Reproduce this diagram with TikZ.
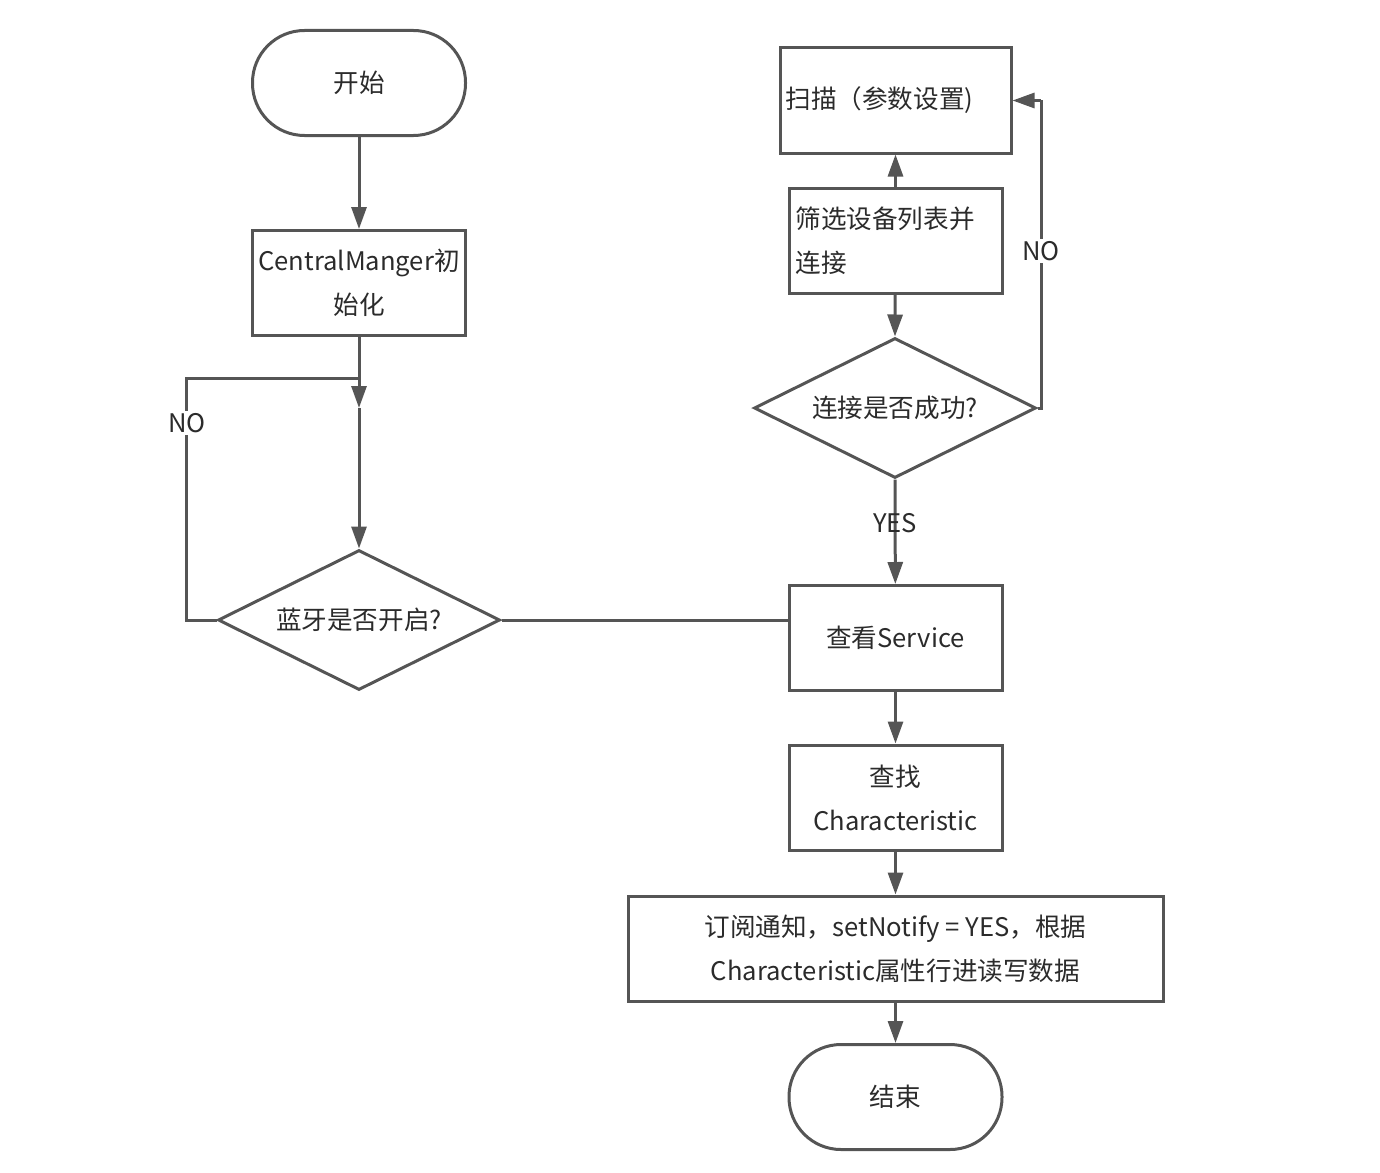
\documentclass[tikz,border=0pt]{standalone}
\usepackage{fontspec}
\setmainfont{Noto Sans CJK SC}
\usetikzlibrary{shapes.geometric, arrows.meta}

\definecolor{linegray}{HTML}{555555}
\definecolor{textgray}{HTML}{2B2B2B}

\tikzset{
  box/.style={draw=linegray, line width=1.5pt, rectangle, minimum width=106.5pt,
    minimum height=52.5pt, inner sep=2pt, text=textgray, align=center,
    font=\fontsize{12.8}{22}\selectfont},
  terminal/.style={box, rounded corners=26pt},
  decision/.style={draw=linegray, line width=1.5pt, diamond, aspect=2, inner sep=0pt,
    minimum width=141pt, minimum height=70pt, text=textgray,
    font=\fontsize{12.8}{22}\selectfont},
  flow/.style={draw=linegray, line width=1.5pt, -{Triangle[length=11pt,width=7.5pt]}},
  link/.style={draw=linegray, line width=1.5pt},
  tag/.style={text=textgray, font=\fontsize{12.8}{14}\selectfont, inner sep=1pt}
}

\begin{document}
\begin{tikzpicture}[x=0.5pt, y=-0.5pt]
  \useasboundingbox (0,0) rectangle (1380,1172);

  % Left column
  \node[terminal] (start) at (359,83) {开始};
  \node[box] (init) at (359,283) {CentralManger初\\始化};
  \node[decision] (bt) at (359,620) {蓝牙是否开启?};

  % Right column
  \node[box, minimum width=115.5pt, text width=110pt, align=left] (scan) at (895.5,100.5) {扫描（参数设置)};
  \node[box, text width=100pt, align=left] (filter) at (895.5,240.5) {筛选设备列表并\\连接};
  \node[decision] (conn) at (895,408) {连接是否成功?};
  \node[box] (svc) at (895.5,638) {查看Service};
  \node[box] (find) at (895.5,797.5) {查找\\Characteristic};
  \node[box, minimum width=267.5pt] (notify) at (895.5,948.5) {订阅通知，setNotify = YES，根据\\Characteristic属性行进读写数据};
  \node[terminal] (end) at (895.5,1097) {结束};

  % Helper points
  \coordinate (jA) at (359,378);
  \coordinate (jB) at (359,408);
  \coordinate (nA) at (186,378);
  \coordinate (nB) at (186,620);
  \coordinate (rA) at (1041,408);
  \coordinate (rB) at (1041,100.5);

  % Connectors
  \draw[flow] (start) -- (init);
  \draw[flow] (init) -- (jB);
  \draw[flow] (jB) -- (bt.north);
  \draw[link] (bt.west) -- (nB) -- (nA) -- (jA);
  \node[tag, fill=white] (noA) at (187,423) {NO};
  \draw[link] (bt.east) -- (bt.east -| svc.west);

  \draw[flow] (filter) -- (scan);
  \draw[flow] (filter) -- (conn.north);
  \draw[link] (conn.east) -- (rA) -- (rB);
  \draw[flow] (rB) -- (scan.east);
  \node[tag, fill=white] (noB) at (1041,251) {NO};
  \draw[flow] (conn.south) -- (svc);
  \node[tag] (yes) at (895,523) {YES};

  \draw[flow] (svc) -- (find);
  \draw[flow] (find) -- (notify);
  \draw[flow] (notify) -- (end);
\end{tikzpicture}
\end{document}
